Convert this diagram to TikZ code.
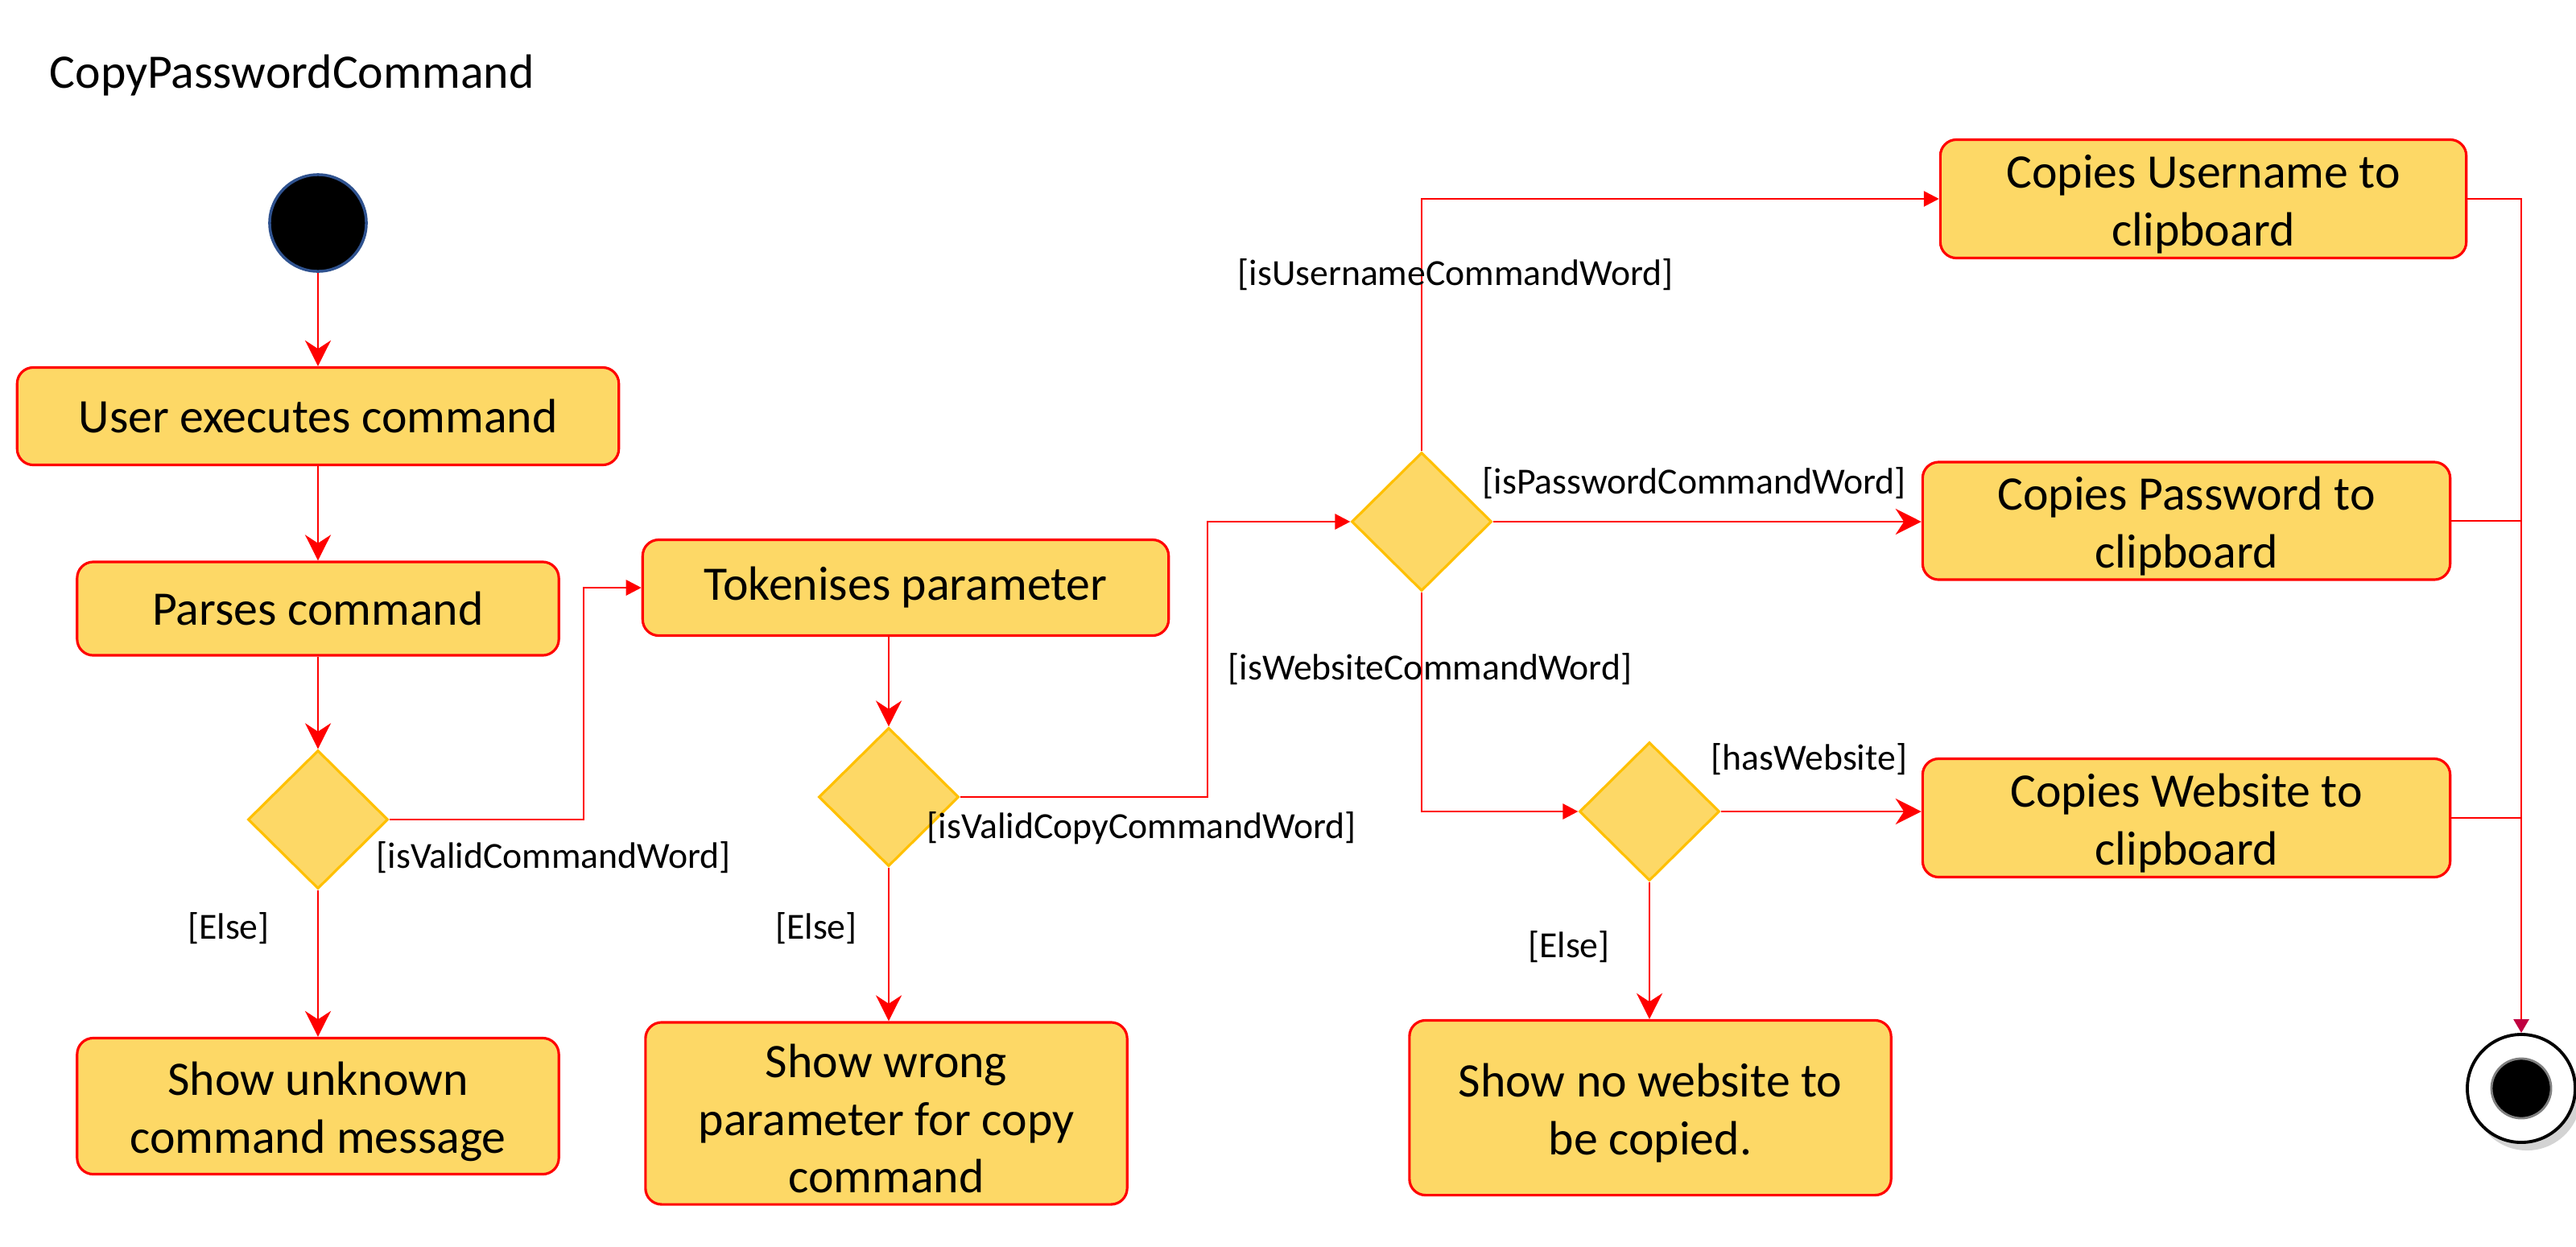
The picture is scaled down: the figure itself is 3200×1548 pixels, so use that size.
\documentclass[tikz,border=0pt]{standalone}
\usepackage{fontspec}
\setmainfont{Carlito}
\usetikzlibrary{shapes.geometric,arrows.meta,shadows}
\definecolor{boxfill}{HTML}{FDD866}
\definecolor{diaborder}{HTML}{FFC000}
\definecolor{startblue}{HTML}{2F528F}
\definecolor{tipred}{HTML}{C00040}
\newcommand{\mytopstrut}{\rule{0pt}{15.5pt}}
\tikzset{
  actbox/.style={draw=red, fill=boxfill, rounded corners=0.2cm, line width=0.9pt, align=center, inner sep=0pt, font=\fontsize{17}{20.4}\selectfont},
  decis/.style={diamond, draw=diaborder, fill=boxfill, line width=0.9pt, inner sep=0pt, minimum width=1.74cm, minimum height=1.72cm},
  guard/.style={inner sep=0pt, font=\fontsize{13}{15.6}\selectfont},
  flow/.style={draw=red, line width=0.8pt},
  arrS/.style={flow, -{Stealth[length=0.32cm, width=0.32cm]}},
  arrT/.style={flow, -{Triangle[length=0.19cm, width=0.19cm]}},
}
\begin{document}
\begin{tikzpicture}[x=0.01cm, y=-0.01cm]
\useasboundingbox (0,0) rectangle (3200,1548);

% title
\node[anchor=west, inner sep=0pt, font=\fontsize{17}{20.4}\selectfont] (title) at (61,94) {CopyPasswordCommand};

% start
\node[circle, fill=black, draw=startblue, line width=1pt, minimum size=1.2cm, inner sep=0pt] (start) at (395,277) {};

% boxes
\node[actbox, minimum width=7.47cm, minimum height=1.21cm] (user) at (395,517) {User executes command};
\node[actbox, minimum width=5.98cm, minimum height=1.16cm] (parses) at (395,756) {Parses command};
\node[actbox, minimum width=5.98cm, minimum height=1.69cm] (unknown) at (395,1374) {\mytopstrut Show unknown\\command message};
\node[actbox, minimum width=6.53cm, minimum height=1.19cm] (tok) at (1125,730) {Tokenises parameter};
\node[actbox, minimum width=5.98cm, minimum height=2.26cm] (wrong) at (1101,1383) {\mytopstrut Show wrong\\parameter for copy\\command};
\node[actbox, minimum width=6.53cm, minimum height=1.47cm] (uname) at (2737,247) {\mytopstrut Copies Username to\\clipboard};
\node[actbox, minimum width=6.55cm, minimum height=1.46cm] (pass) at (2716,647) {\mytopstrut Copies Password to\\clipboard};
\node[actbox, minimum width=6.55cm, minimum height=1.47cm] (web) at (2716,1016) {\mytopstrut Copies Website to\\clipboard};
\node[actbox, minimum width=5.98cm, minimum height=2.17cm] (nows) at (2050,1376) {\mytopstrut Show no website to\\be copied.};

% decisions
\node[decis] (d1) at (395,1018) {};
\node[decis] (d2) at (1104,990) {};
\node[decis] (d3) at (1766,648) {};
\node[decis] (d4) at (2049,1008) {};

% end
\node[circle, draw=black, fill=white, line width=1.1pt, minimum size=1.34cm, inner sep=0pt,
      drop shadow={shadow xshift=0.07cm, shadow yshift=-0.1cm, opacity=0.35}] (end) at (3132,1352) {};
\node[circle, fill=black, draw=black!50, line width=0.8pt, minimum size=0.74cm, inner sep=0pt] (endin) at (3132,1352) {};

% coordinates
\coordinate (c1) at (725,1018);
\coordinate (c2) at (1500,990);

% connectors
\draw[arrS] (start) -- (user);
\draw[arrS] (user) -- (parses);
\draw[arrS] (parses) -- (d1);
\draw[arrS] (d1) -- (unknown);
\draw[arrT] (d1.east) -- (c1) |- (tok.west);
\draw[arrS] (d2.north |- tok.south) -- (d2.north);
\draw[arrS] (d2.south) -- (d2.south |- wrong.north);
\draw[arrT] (d2.east) -- (c2) |- (d3.west);
\draw[arrT] (d3.north) |- (uname.west);
\draw[arrS] (d3.east) -- (d3.east -| pass.west);
\draw[arrT] (d3.south) |- (d4.west);
\draw[arrS] (d4.east) -- (d4.east -| web.west);
\draw[arrS] (d4.south) -- (d4.south |- nows.north);
\draw[flow, -{Triangle[length=0.17cm, width=0.19cm, color=tipred]}] (uname.east) -| (end.north);
\draw[flow] (pass.east) -- (pass.east -| end.north);
\draw[flow] (web.east) -- (web.east -| end.north);

% guards
\node[guard, anchor=west] (g1) at (467,1065) {[isValidCommandWord]};
\node[guard] (g2) at (284,1153) {[Else]};
\node[guard, anchor=west] (g3) at (1151,1029) {[isValidCopyCommandWord]};
\node[guard] (g4) at (1014,1153) {[Else]};
\node[guard, anchor=west] (g5) at (1537,341) {[isUsernameCommandWord]};
\node[guard, anchor=west] (g6) at (1841,600) {[isPasswordCommandWord]};
\node[guard, anchor=west] (g7) at (1525,831) {[isWebsiteCommandWord]};
\node[guard, anchor=west] (g8) at (2125,943) {[hasWebsite]};
\node[guard] (g9) at (1949,1176) {[Else]};
\end{tikzpicture}
\end{document}
